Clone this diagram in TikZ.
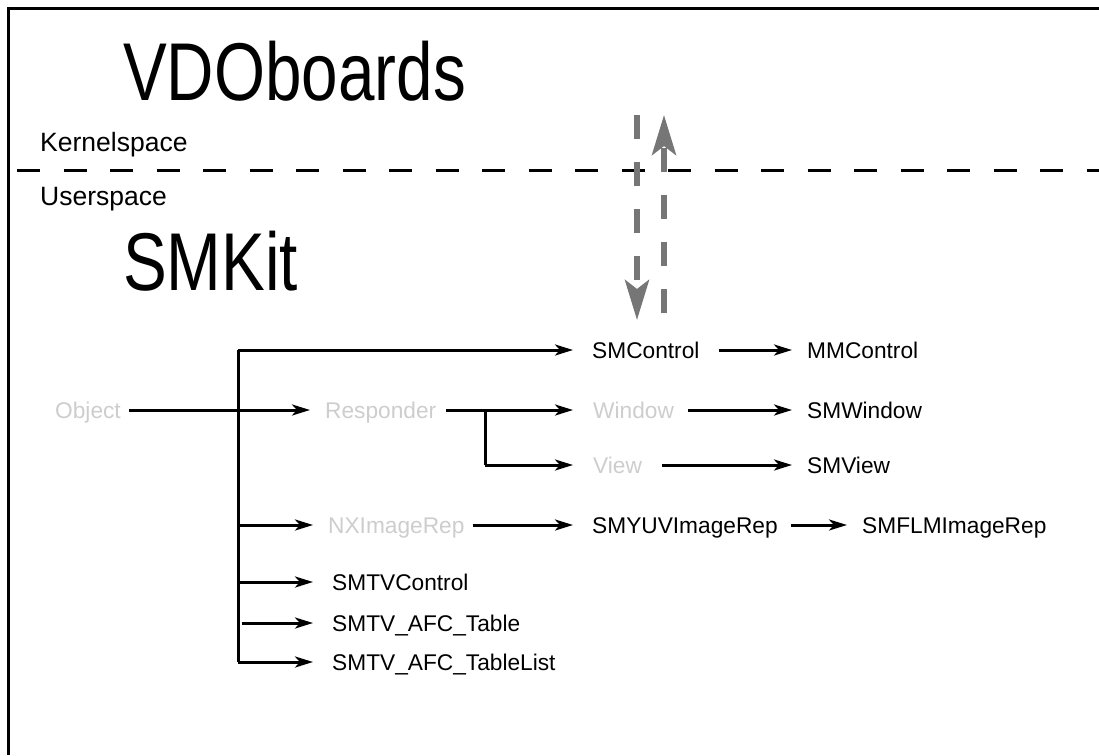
\documentclass[tikz,border=0pt]{standalone}
\usepackage{fontspec}
\usepackage{graphicx}
\setmainfont{Liberation Sans}
\usetikzlibrary{arrows.meta}
\definecolor{lightgr}{RGB}{205,205,205}
\definecolor{arrgr}{RGB}{118,118,118}
\tikzset{
  lbl/.style={anchor=base west, inner sep=0pt, font=\fontsize{22.7}{27}\selectfont},
  ghost/.style={lbl, text=lightgr},
  side/.style={anchor=base west, inner sep=0pt, font=\fontsize{26.5}{30}\selectfont},
  title/.style={anchor=base west, inner sep=0pt, font=\fontsize{82}{90}\selectfont},
  arr/.style={line width=3pt, -{Stealth[length=18pt,width=11pt,inset=5pt]}},
  tline/.style={line width=3pt},
  garr/.style={line width=6pt, arrgr, dash pattern=on 24pt off 23pt,
    -{Stealth[length=40pt,width=24pt,inset=9pt]}},
}
\begin{document}
\begin{tikzpicture}[x=1pt,y=-1pt]
\useasboundingbox (0,0) rectangle (1099,755);
% frame
\draw[line width=3pt] (8,755) -- (8,8) -- (1099,8);
% kernel/user separator
\draw[line width=3pt, dash pattern=on 23pt off 23.5pt] (17,170) -- (1099,170);

\node[title] (vdo) at (123,100) {\scalebox{0.8}[1]{VDOboards}};
\node[title] (smkit) at (123,290) {\scalebox{0.8}[1]{SMKit}};
\node[side] (kern) at (40,151) {Kernelspace};
\node[side] (user) at (40,205) {Userspace};

% grey dashed arrows
\coordinate (g1s) at (637,115);
\coordinate (g1e) at (637,320);
\coordinate (g2s) at (664,313);
\coordinate (g2e) at (664,115);
\draw[garr] (g1s) -- (g1e);
\draw[garr] (g2s) -- (g2e);

% rows
\coordinate (r1) at (0,350);
\coordinate (r2) at (0,410);
\coordinate (r3) at (0,465);
\coordinate (r4) at (0,525);
\coordinate (r5) at (0,582);
\coordinate (r6) at (0,623);
\coordinate (r7) at (0,662);

% nodes
\node[ghost] (obj) at (55,418) {Object};
\node[ghost] (resp) at (325,418) {Responder};
\node[lbl] (smc) at (592,358) {SMControl};
\node[lbl] (mmc) at (807,358) {MMControl};
\node[ghost] (win) at (593,418) {Window};
\node[lbl] (smw) at (807,418) {SMWindow};
\node[ghost] (view) at (593,473) {View};
\node[lbl] (smv) at (807,473) {SMView};
\node[ghost] (nxi) at (328,533) {NXImageRep};
\node[lbl] (yuv) at (592,533) {SMYUVImageRep};
\node[lbl] (flm) at (862,533) {SMFLMImageRep};
\node[lbl] (tvc) at (332,590) {SMTVControl};
\node[lbl] (afc) at (332,631) {SMTV\_AFC\_Table};
\node[lbl] (afl) at (332,670) {SMTV\_AFC\_TableList};

% trunk and branches
\coordinate (trTop) at (238,350);
\coordinate (trBot) at (238,662);
\coordinate (brR) at (485,410);
\coordinate (brV) at (485,465);
\draw[tline] (trBot) -- (trTop);
\draw[arr] (trTop) -- ([xshift=-19pt]smc.west |- r1);
\draw[arr] ([xshift=8pt]obj.east |- r2) -- ([xshift=-15pt]resp.west |- r2);
\draw[arr] ([xshift=10pt]resp.east |- r2) -- ([xshift=-20pt]win.west |- r2);
\draw[tline] (brR) -- (brV);
\draw[arr] (brV) -- ([xshift=-20pt]view.west |- r3);
\draw[arr] ([xshift=19pt]smc.east |- r1) -- ([xshift=-15pt]mmc.west |- r1);
\draw[arr] ([xshift=14pt]win.east |- r2) -- ([xshift=-15pt]smw.west |- r2);
\draw[arr] ([xshift=20pt]view.east |- r3) -- ([xshift=-15pt]smv.west |- r3);
\draw[arr] (trTop |- r4) -- ([xshift=-15pt]nxi.west |- r4);
\draw[arr] ([xshift=8pt]nxi.east |- r4) -- ([xshift=-19pt]yuv.west |- r4);
\draw[arr] ([xshift=13pt]yuv.east |- r4) -- ([xshift=-15pt]flm.west |- r4);
\draw[arr] (trTop |- r5) -- ([xshift=-19pt]tvc.west |- r5);
\draw[arr] ([xshift=4pt]trTop |- r6) -- ([xshift=-19pt]afc.west |- r6);
\draw[arr] (trBot) -- ([xshift=-19pt]afl.west |- r7);
\end{tikzpicture}
\end{document}
